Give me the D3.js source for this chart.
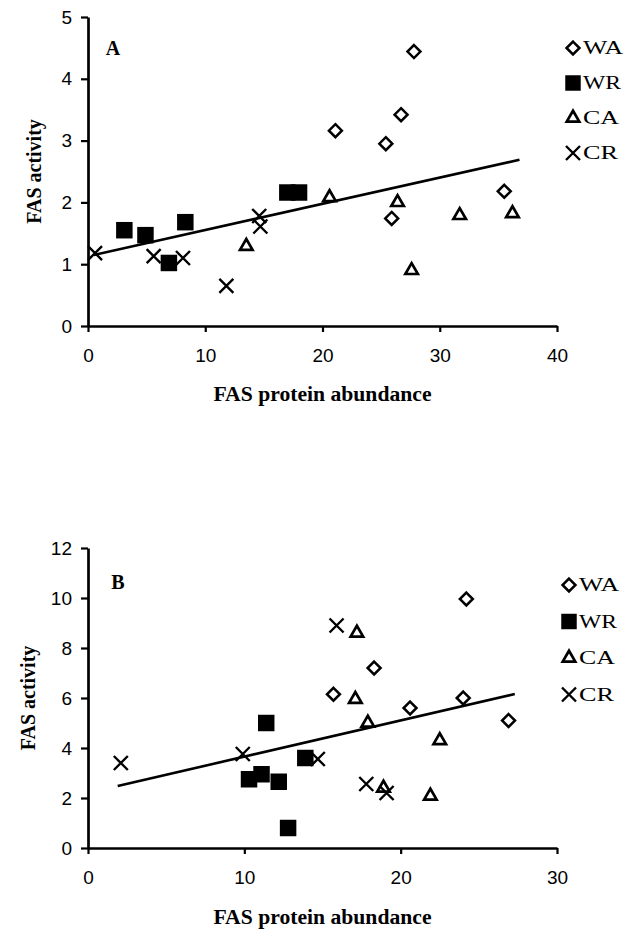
<!DOCTYPE html>
<html>
<head>
<meta charset="utf-8">
<script src="https://cdn.jsdelivr.net/npm/d3@7"></script>
<style>
	body { margin: 0; background: #fff; }
	svg { display: block; }
	.tick text { font-family: 'Liberation Sans', Arial, sans-serif; font-size: 19px; fill: #000; }
	.title { font-family: 'Liberation Serif', 'Times New Roman', serif; font-weight: bold; font-size: 20px; fill: #000; }
	.legend text { font-family: 'Liberation Serif', 'Times New Roman', serif; font-size: 18px; fill: #000; }
</style>
</head>
<body>
<script>
const groups = ['WA', 'WR', 'CA', 'CR']

// panel A, [protein abundance, activity]
const aTicksX = [0, 10, 20, 30, 40]
const aTicksY = [0, 1, 2, 3, 4, 5]
const aWA = [[21.1, 3.16], [25.4, 2.95], [26.7, 3.42], [27.8, 4.44], [25.9, 1.74], [35.5, 2.18]]
const aWR = [[3.1, 1.55], [4.9, 1.47], [6.9, 1.02], [8.3, 1.68], [17.0, 2.16], [18.0, 2.16]]
const aCA = [[13.5, 1.29], [20.6, 2.08], [26.4, 2.0], [27.6, 0.9], [31.7, 1.79], [36.2, 1.82]]
const aCR = [[0.6, 1.18], [5.6, 1.13], [8.1, 1.1], [11.8, 0.65], [14.6, 1.78], [14.7, 1.61]]
const aFit = [[0.5, 1.15], [36.8, 2.69]]

// panel B
const bTicksX = [0, 10, 20, 30]
const bTicksY = [0, 2, 4, 6, 8, 10, 12]
const bWA = [[15.7, 6.15], [18.3, 7.2], [20.6, 5.6], [24.0, 6.0], [24.2, 9.96], [26.9, 5.1]]
const bWR = [[10.3, 2.75], [11.1, 2.95], [12.2, 2.65], [11.4, 5.0], [12.8, 0.8], [13.9, 3.6]]
const bCA = [[17.2, 8.6], [17.1, 5.95], [17.9, 5.0], [22.5, 4.3], [18.9, 2.4], [21.9, 2.08]]
const bCR = [[2.1, 3.4], [9.9, 3.76], [14.7, 3.56], [15.9, 8.9], [17.8, 2.56], [19.1, 2.2]]
const bFit = [[1.9, 2.48], [27.3, 6.16]]

const W = 629, H = 932

const cross = { draw: (ctx, size) => {
	const r = Math.sqrt(size) / 2
	ctx.moveTo(-r, -r); ctx.lineTo(r, r)
	ctx.moveTo(r, -r); ctx.lineTo(-r, r)
} }
const diamond = { draw: (ctx, size) => {
	const r = Math.sqrt(size / 2)
	ctx.moveTo(0, -r); ctx.lineTo(r, 0); ctx.lineTo(0, r); ctx.lineTo(-r, 0); ctx.closePath()
} }

const marks = {
	'WA': { type: diamond, size: 84, fill: '#fff', sw: 2.5 },
	'WR': { type: d3.symbolSquare, size: 272, fill: '#000', sw: 0 },
	'CA': { type: d3.symbolTriangle, size: 68, fill: '#fff', sw: 2.7 },
	'CR': { type: cross, size: 196, fill: 'none', sw: 2.4 }
}
const legendWidths = { 'WA': 40, 'WR': 38, 'CA': 36, 'CR': 35 }

const panels = [
	{ letter: 'A', xd: [0, 40], yd: [0, 5], xt: aTicksX, yt: aTicksY, series: [aWA, aWR, aCA, aCR], fit: aFit,
	  left: 88, right: 557, top: 17, bottom: 326, letterPos: [113, 55], yTitleX: 41, xTitleY: 401, legend: [573, 48, 35] },
	{ letter: 'B', xd: [0, 30], yd: [0, 12], xt: bTicksX, yt: bTicksY, series: [bWA, bWR, bCA, bCR], fit: bFit,
	  left: 88, right: 557, top: 548, bottom: 848, letterPos: [118, 589], yTitleX: 35, xTitleY: 924, legend: [569, 585, 36.5] }
]

const svg = d3.select('body').append('svg')
	.attr('width', W)
	.attr('height', H)

panels.forEach(p => {
	const x = d3.scaleLinear().domain(p.xd).range([p.left, p.right])
	const y = d3.scaleLinear().domain(p.yd).range([p.bottom, p.top])
	const g = svg.append('g')

	const yAxis = g.append('g')
		.attr('transform', `translate(${p.left},0)`)
		.call(d3.axisLeft(y).tickValues(p.yt).tickFormat(d3.format('d')).tickSize(7).tickSizeOuter(0).tickPadding(9))
	const xAxis = g.append('g')
		.attr('transform', `translate(0,${p.bottom})`)
		.call(d3.axisBottom(x).tickValues(p.xt).tickFormat(d3.format('d')).tickSize(6).tickSizeOuter(0).tickPadding(17))
	;[yAxis, xAxis].forEach(a => {
		a.select('.domain').attr('stroke', '#000').attr('stroke-width', 2.7)
		a.selectAll('.tick line').attr('stroke', '#000').attr('stroke-width', 2.2)
	})

	// regression line
	g.append('path')
		.datum(p.fit)
		.attr('fill', 'none')
		.attr('stroke', '#000')
		.attr('stroke-width', 2.6)
		.attr('d', d3.line().x(d => x(d[0])).y(d => y(d[1])))

	p.series.forEach((s, i) => {
		const m = marks[groups[i]]
		g.selectAll(null).data(s).enter().append('path')
			.attr('transform', d => `translate(${x(d[0])},${y(d[1])})`)
			.attr('d', d3.symbol().type(m.type).size(m.size))
			.attr('fill', m.fill)
			.attr('stroke', m.sw ? '#000' : 'none')
			.attr('stroke-width', m.sw)
	})

	g.append('text').attr('class', 'title')
		.attr('x', p.letterPos[0]).attr('y', p.letterPos[1])
		.attr('text-anchor', 'middle')
		.text(p.letter)

	g.append('text').attr('class', 'title')
		.attr('transform', `translate(${p.yTitleX},${(p.top + p.bottom) / 2}) rotate(-90)`)
		.attr('text-anchor', 'middle')
		.text('FAS activity')

	g.append('text').attr('class', 'title')
		.attr('x', (p.left + p.right) / 2).attr('y', p.xTitleY)
		.attr('text-anchor', 'middle')
		.attr('textLength', 218)
		.attr('lengthAdjust', 'spacingAndGlyphs')
		.text('FAS protein abundance')

	const lg = g.append('g').attr('class', 'legend')
	groups.forEach((k, i) => {
		const m = marks[k]
		const ly = p.legend[1] + i * p.legend[2]
		lg.append('path')
			.attr('transform', `translate(${p.legend[0]},${ly})`)
			.attr('d', d3.symbol().type(m.type).size(k === 'WR' ? 240 : m.size))
			.attr('fill', m.fill)
			.attr('stroke', m.sw ? '#000' : 'none')
			.attr('stroke-width', m.sw)
		lg.append('text')
			.attr('x', p.legend[0] + 10).attr('y', ly + 6)
			.attr('textLength', legendWidths[k])
			.attr('lengthAdjust', 'spacingAndGlyphs')
			.text(k)
	})
})
</script>
</body>
</html>
